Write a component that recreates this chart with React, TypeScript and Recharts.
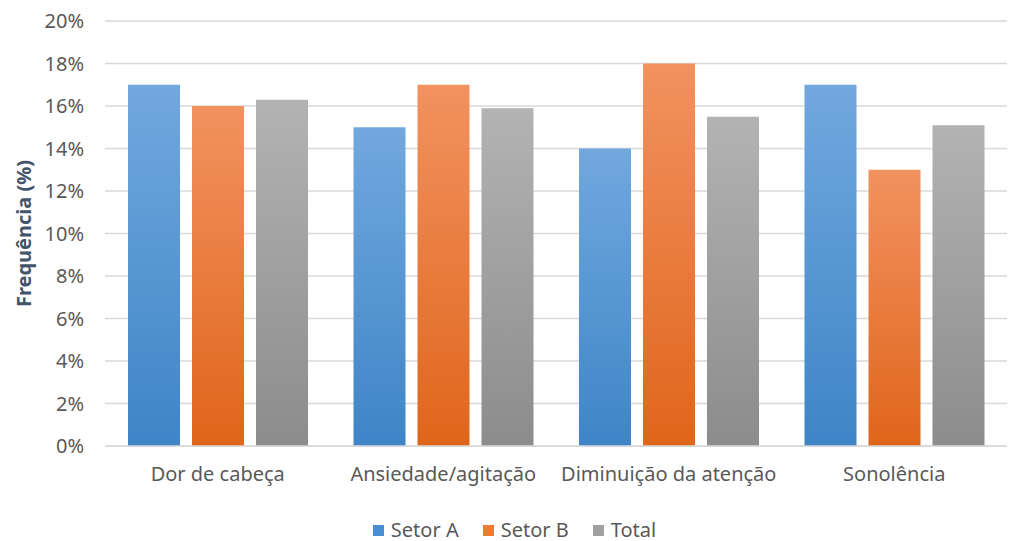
import React from 'react';
import { BarChart, Bar, XAxis, YAxis, CartesianGrid, Legend } from 'recharts';

// ── Data ──────────────────────────────────────────────────────────────────────

const categories = ['Dor de cabeça', 'Ansiedade/agitação', 'Diminuição da atenção', 'Sonolência'];
const setorA = [17, 15, 14, 17];
const setorB = [16, 17, 18, 13];
const total = [16.3, 15.9, 15.5, 15.1];
const yTicks = [0, 2, 4, 6, 8, 10, 12, 14, 16, 18, 20];

const seriesNames = ['Setor A', 'Setor B', 'Total'];

const data = categories.map((c, i) => ({
  name: c,
  a: setorA[i],
  b: setorB[i],
  t: total[i],
}));

const FONT = "'Noto Sans', sans-serif";
const TICK = '#595959';
const FS = 20;

const legendItems = [
  { name: seriesNames[0], color: '#4a8fd3' },
  { name: seriesNames[1], color: '#ee7a33' },
  { name: seriesNames[2], color: '#a0a0a0' },
];

function LegendContent() {
  return (
    <div style={{
      display: 'flex', justifyContent: 'center', gap: 24, fontFamily: FONT, fontSize: FS,
      color: TICK, lineHeight: '30px', paddingTop: 4, paddingLeft: 20,
    }}>
      {legendItems.map(it => (
        <span key={it.name} style={{ display: 'flex', alignItems: 'center' }}>
          <span style={{ width: 11, height: 11, background: it.color, display: 'inline-block', marginRight: 7 }} />
          {it.name}
        </span>
      ))}
    </div>
  );
}

export default function App() {
  return (
    <div style={{ position: 'absolute', left: 0, top: 0, width: 1017, height: 541, background: '#fff' }}>
      <BarChart
        width={1017} height={541} data={data}
        margin={{ top: 21, right: 10, bottom: 0, left: 2 }}
        barCategoryGap="10%" barGap={12}
      >
        <defs>
          <linearGradient id="gA" x1="0" y1="0" x2="0" y2="1">
            <stop offset="0%" stopColor="#71a8de" />
            <stop offset="100%" stopColor="#3e85c7" />
          </linearGradient>
          <linearGradient id="gB" x1="0" y1="0" x2="0" y2="1">
            <stop offset="0%" stopColor="#f29260" />
            <stop offset="100%" stopColor="#e0651b" />
          </linearGradient>
          <linearGradient id="gT" x1="0" y1="0" x2="0" y2="1">
            <stop offset="0%" stopColor="#b3b3b3" />
            <stop offset="100%" stopColor="#8c8c8c" />
          </linearGradient>
        </defs>
        <CartesianGrid vertical={false} stroke="#d9d9d9" strokeWidth={1.3} />
        <XAxis
          dataKey="name" height={65}
          axisLine={{ stroke: '#d9d9d9', strokeWidth: 1.3 }} tickLine={false}
          tick={{ fontFamily: FONT, fontSize: FS, fill: TICK }} tickMargin={15}
          interval={0}
        />
        <YAxis
          width={103} domain={[0, 20]} ticks={yTicks}
          tickFormatter={v => `${v}%`}
          axisLine={false} tickLine={false} tickMargin={15}
          tick={{ fontFamily: FONT, fontSize: FS, fill: TICK }}
          label={{
            value: 'Frequência (%)', angle: -90, position: 'insideLeft', offset: 22,
            style: { fontFamily: FONT, fontSize: 20, fontWeight: 700, fill: '#44546a', textAnchor: 'middle' },
          }}
        />
        <Legend verticalAlign="bottom" height={30} content={() => <LegendContent />} />
        <Bar dataKey="a" name={seriesNames[0]} fill="url(#gA)" barSize={52} isAnimationActive={false} />
        <Bar dataKey="b" name={seriesNames[1]} fill="url(#gB)" barSize={52} isAnimationActive={false} />
        <Bar dataKey="t" name={seriesNames[2]} fill="url(#gT)" barSize={52} isAnimationActive={false} />
      </BarChart>
    </div>
  );
}
